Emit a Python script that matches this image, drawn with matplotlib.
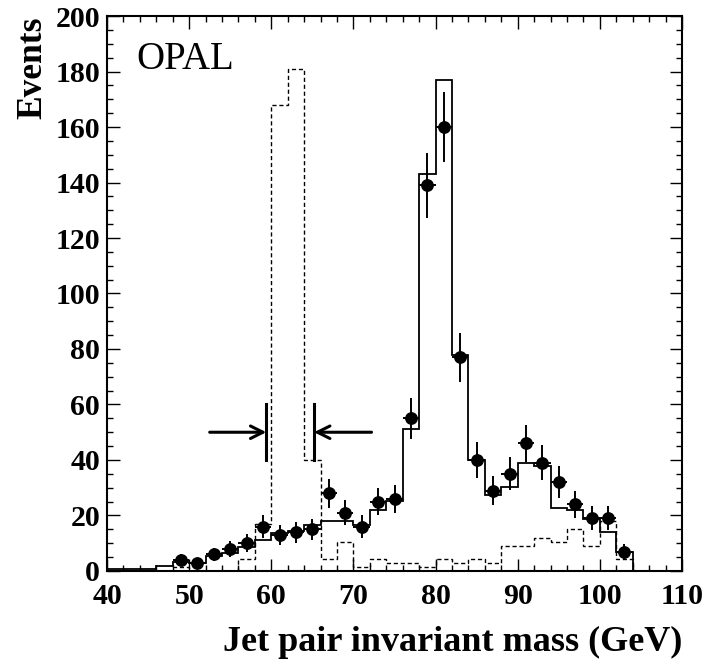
import numpy as np
import matplotlib
matplotlib.use("Agg")
import matplotlib.pyplot as plt
from matplotlib.ticker import MultipleLocator

# bin edges: 2 GeV bins from 40 to 104
edges = np.arange(40, 106, 2)

# solid histogram (expectation)
mc_solid = [0.7, 0.7, 0.8, 1.9, 3.3, 3.0, 5.5, 6.6, 8.8, 11.2, 13.7, 14.4,
            16.5, 17.9, 18.0, 16.5, 22.0, 25.3, 51, 143, 177, 78, 40, 27.5,
            30.4, 39, 38, 22.8, 22, 18.6, 14, 7]

# dashed histogram (signal-like)
mc_dashed = [0, 0, 0, 0, 1.6, 0, 0, 0, 4.3, 17, 168, 181, 40, 4.3, 10.5, 1.5,
             4.3, 3, 3, 1.6, 4.3, 3, 4.3, 3, 9, 9, 12, 10.3, 15, 9, 18, 4.2]

# data points at bin centres
data_x = np.arange(49, 105, 2)
data_y = [4, 3, 6, 8, 10, 16, 13, 14, 15, 28, 21, 16, 25, 26, 55, 139, 160,
          77, 40, 29, 35, 46, 39, 32, 24, 19, 19, 7]

plt.rcParams["font.family"] = ["Liberation Serif", "DejaVu Serif"]

fig = plt.figure(figsize=(7.06, 6.62), dpi=100)
ax = fig.add_axes([0.1516, 0.1375, 0.8144, 0.8383])

ax.stairs(mc_dashed, edges, color="black", lw=1.0, ls=(0, (3, 2)))
ax.stairs(mc_solid, edges, color="black", lw=1.3)

ax.errorbar(data_x, data_y, yerr=np.sqrt(data_y), xerr=1.0, fmt="o",
            color="black", ms=8.2, elinewidth=1.4, capsize=0)

# selection window arrows
arr = dict(arrowstyle="->,head_length=0.9,head_width=0.45", lw=2.2,
           color="black", shrinkA=0, shrinkB=0)
ax.annotate("", xy=(59.4, 50), xytext=(52.5, 50), arrowprops=arr)
ax.annotate("", xy=(65.2, 50), xytext=(72.2, 50), arrowprops=arr)
ax.plot([59.4, 59.4], [40, 60], color="black", lw=2.2)
ax.plot([65.2, 65.2], [40, 60], color="black", lw=2.2)

ax.text(43.6, 181, "OPAL", fontsize=28)

ax.set_xlim(40, 110)
ax.set_ylim(0, 200)
ax.xaxis.set_major_locator(MultipleLocator(10))
ax.xaxis.set_minor_locator(MultipleLocator(2))
ax.yaxis.set_major_locator(MultipleLocator(20))
ax.yaxis.set_minor_locator(MultipleLocator(5))
ax.tick_params(which="both", direction="in", top=True, right=True, width=1)
ax.tick_params(which="major", length=9)
ax.tick_params(which="minor", length=4.5)
ax.tick_params(axis="x", which="major", pad=9)
ax.tick_params(axis="y", which="major", pad=5)
for lab in ax.get_xticklabels() + ax.get_yticklabels():
    lab.set_fontsize(21.5)
    lab.set_fontweight("bold")
for s in ax.spines.values():
    s.set_linewidth(1.5)

ax.set_xlabel("Jet pair invariant mass (GeV)", fontsize=26, fontweight="bold",
              loc="right", labelpad=11)
ax.set_ylabel("Events", fontsize=25.5, fontweight="bold", loc="top", labelpad=4)

fig.savefig("out.png", dpi=100)
